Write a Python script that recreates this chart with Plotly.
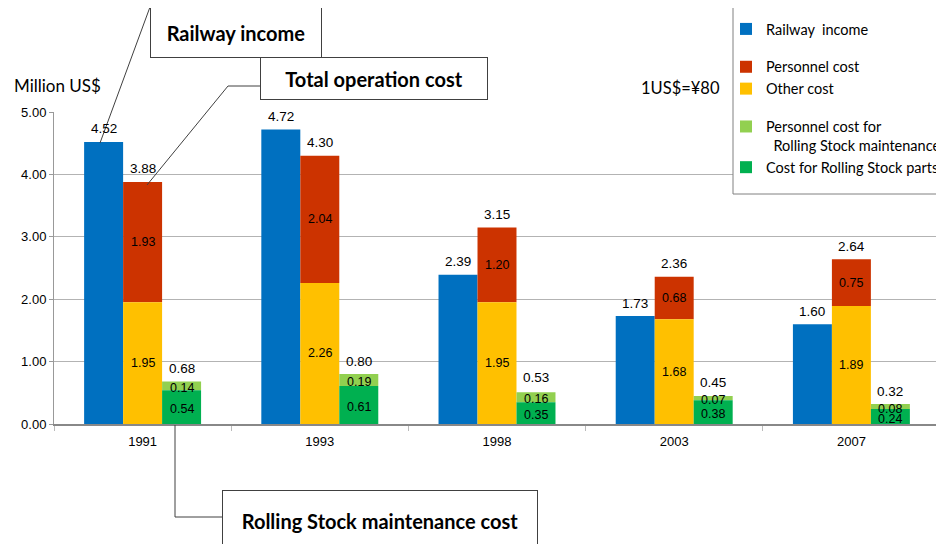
import plotly.graph_objects as go

years = ["1991", "1993", "1998", "2003", "2007"]
income = [4.52, 4.72, 2.39, 1.73, 1.60]
personnel = [1.93, 2.04, 1.20, 0.68, 0.75]
other = [1.95, 2.26, 1.95, 1.68, 1.89]
total_op = [3.88, 4.30, 3.15, 2.36, 2.64]
rs_personnel = [0.14, 0.19, 0.16, 0.07, 0.08]
rs_parts = [0.54, 0.61, 0.35, 0.38, 0.24]
rs_total = [0.68, 0.80, 0.53, 0.45, 0.32]
y_ticks = [0, 1, 2, 3, 4, 5]

BLUE = "#0070C0"
RED = "#CC3300"
YELLOW = "#FFC000"
LGREEN = "#92D050"
GREEN = "#00B050"

# page offset (browser body margin) compensation
OFF = 8
W, H = 944, 544
# plot area in reference-page pixels: x 54..940, y 112..424
ML, MR, MT, MB = 54 - OFF, W - (940 - OFF), 112 - OFF, H - (424 - OFF)
PW = W - ML - MR
PH = H - MT - MB


def px(x):
    return (x - OFF - ML) / PW


def py(y):
    return (H - MB - (y - OFF)) / PH


OUT_FONT = dict(family="Liberation Sans, Arial, sans-serif", size=13.5, color="#000")
IN_FONT = dict(family="Liberation Sans, Arial, sans-serif", size=12.5, color="#000")
TICK_FONT = dict(family="Liberation Sans, Arial, sans-serif", size=13, color="#000")
TXT_FONT = "Lato, Calibri, sans-serif"

fig = go.Figure()
fig.add_trace(go.Bar(x=years, y=income, offsetgroup="a", name="Railway\u00a0 income",
                     marker=dict(color=BLUE, line_width=0), legendgroup="g1"))
fig.add_trace(go.Bar(x=years, y=personnel, base=other, offsetgroup="b", name="Personnel cost",
                     marker=dict(color=RED, line_width=0), legendgroup="g2"))
fig.add_trace(go.Bar(x=years, y=other, offsetgroup="b", name="Other cost",
                     marker=dict(color=YELLOW, line_width=0), legendgroup="g2"))
fig.add_trace(go.Bar(x=years, y=rs_personnel, base=rs_parts, offsetgroup="c",
                     name="Personnel cost for<br>\u00a0\u00a0Rolling Stock maintenance",
                     marker=dict(color=LGREEN, line_width=0), legendgroup="g3"))
fig.add_trace(go.Bar(x=years, y=rs_parts, offsetgroup="c", name="Cost for Rolling Stock parts",
                     marker=dict(color=GREEN, line_width=0), legendgroup="g3"))

bw = PW / len(years) * 0.66 / 3  # pixel width of one bar
ann = []
for i, yr in enumerate(years):
    # outside (total) labels
    ann.append(dict(x=i, y=income[i], xshift=-bw, yshift=13, text=f"{income[i]:.2f}", font=OUT_FONT))
    ann.append(dict(x=i, y=total_op[i], xshift=0, yshift=13, text=f"{total_op[i]:.2f}", font=OUT_FONT))
    ann.append(dict(x=i, y=rs_total[i], xshift=bw, yshift=13, text=f"{rs_total[i]:.2f}", font=OUT_FONT))
    # inside labels
    ann.append(dict(x=i, y=other[i] + personnel[i] / 2, xshift=0, text=f"{personnel[i]:.2f}", font=IN_FONT))
    ann.append(dict(x=i, y=other[i] / 2, xshift=0, text=f"{other[i]:.2f}", font=IN_FONT))
    ann.append(dict(x=i, y=rs_parts[i] + rs_personnel[i] / 2, xshift=bw, yshift=-2,
                    text=f"{rs_personnel[i]:.2f}", font=IN_FONT))
    ann.append(dict(x=i, y=rs_parts[i] / 2, xshift=bw, yshift=-2, text=f"{rs_parts[i]:.2f}",
                    font=IN_FONT))
for a in ann:
    a.update(xref="x", yref="y", showarrow=False)

# text labels
ann.append(dict(xref="paper", yref="paper", x=px(12), y=py(85), xanchor="left", yanchor="middle",
                text="Million US$", showarrow=False,
                font=dict(family=TXT_FONT, size=17, color="#000")))
ann.append(dict(xref="paper", yref="paper", x=px(639), y=py(88), xanchor="left", yanchor="middle",
                text="1US$=¥80", showarrow=False,
                font=dict(family=TXT_FONT, size=16.5, color="#000")))

# callout boxes
boxes = [("Railway income", 236, 32, 170, 49),
         ("Total operation cost", 374, 79, 226, 41),
         ("Rolling Stock maintenance cost", 380, 521, 314, 60)]
for t, cx, cy, bwid, bh in boxes:
    ann.append(dict(xref="paper", yref="paper", x=px(cx), y=py(cy), xanchor="center",
                    yanchor="middle", text=f"<b>{t}</b>", showarrow=False, width=bwid, height=bh,
                    bgcolor="white", bordercolor="#404040", borderwidth=1, borderpad=0,
                    font=dict(family=TXT_FONT, size=20, color="#000")))

shapes = []
lines = [((150, 7), (100, 143)),
         ((260, 86), (228, 86)), ((228, 86), (147, 185)),
         ((175, 425), (175, 517)), ((175, 517), (222, 517))]
for (x0, y0), (x1, y1) in lines:
    shapes.append(dict(type="line", xref="paper", yref="paper", x0=px(x0), y0=py(y0),
                       x1=px(x1), y1=py(y1), line=dict(color="#404040", width=1), layer="above"))
# legend frame
shapes.append(dict(type="rect", xref="paper", yref="paper", x0=px(733), y0=py(7),
                   x1=px(960), y1=py(194), fillcolor="white",
                   line=dict(color="#808080", width=1), layer="above"))

fig.update_layout(
    width=W, height=H, autosize=False,
    margin=dict(l=ML, r=MR, t=MT, b=MB, autoexpand=False),
    paper_bgcolor="white", plot_bgcolor="white",
    barmode="group", bargap=0.34, bargroupgap=0,
    showlegend=True,
    legend=dict(x=px(726), y=py(13), xanchor="left", yanchor="top",
                traceorder="grouped", tracegroupgap=16, valign="top",
                bgcolor="rgba(0,0,0,0)", borderwidth=0,
                font=dict(family=TXT_FONT, size=14.5, color="#000")),
    annotations=ann, shapes=shapes,
    hovermode=False,
)
fig.update_yaxes(range=[0, 5], tickvals=y_ticks, tickformat=".2f", showgrid=True,
                 gridcolor="#b3b3b3", gridwidth=1, showline=True, linecolor="#999999",
                 ticks="outside", ticklen=4, tickcolor="#999999", zeroline=False,
                 tickfont=TICK_FONT)
fig.update_xaxes(type="category", range=[-0.5, len(years) - 0.5], showline=True,
                 linecolor="#888888", linewidth=2, tickangle=0, ticklabelstandoff=4,
                 ticks="outside", tickson="boundaries", ticklen=5, tickcolor="#bbbbbb",
                 tickfont=TICK_FONT, showgrid=False)

fig.write_html("out.html")
